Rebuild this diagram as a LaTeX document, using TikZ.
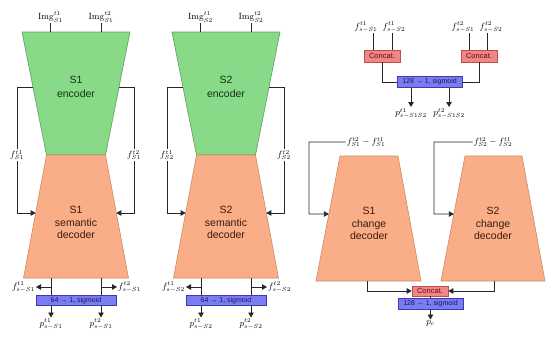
\documentclass[tikz,border=0pt]{standalone}
\usepackage{fontspec}
\setsansfont{Liberation Sans}
\usetikzlibrary{arrows.meta,calc}
\definecolor{encfill}{HTML}{88DA88}
\definecolor{encdraw}{HTML}{5E9E5E}
\definecolor{enctxt}{HTML}{143214}
\definecolor{decfill}{HTML}{F9AE88}
\definecolor{decdraw}{HTML}{C98B6B}
\definecolor{dectxt}{HTML}{3A1A0C}
\definecolor{bluefill}{HTML}{7C7CF2}
\definecolor{bluedraw}{HTML}{3C3CB0}
\definecolor{bluetxt}{HTML}{16165A}
\definecolor{catfill}{HTML}{F28585}
\definecolor{catdraw}{HTML}{B85050}
\definecolor{cattxt}{HTML}{5A1010}
\tikzset{
  conn/.style={draw=black!85, line width=0.8pt},
  arr/.style={conn, -{Triangle[length=5pt,width=5.5pt]}},
  encshape/.style={fill=encfill, draw=encdraw, line width=0.6pt},
  decshape/.style={fill=decfill, draw=decdraw, line width=0.6pt},
  lbl/.style={font=\fontsize{9}{10}\selectfont, inner sep=1pt},
  enctext/.style={font=\sffamily\fontsize{10.5}{13.5}\selectfont, align=center, text=enctxt},
  dectext/.style={font=\sffamily\fontsize{10.5}{12.8}\selectfont, align=center, text=dectxt},
  sigbox/.style={rectangle, fill=bluefill, draw=bluedraw, line width=0.6pt,
    font=\sffamily\fontsize{7}{8}\selectfont, text=bluetxt, inner sep=0pt,
    minimum height=10.5pt},
  catbox/.style={rectangle, fill=catfill, draw=catdraw, line width=0.6pt,
    font=\sffamily\fontsize{7.5}{8}\selectfont, text=cattxt, inner sep=0pt,
    minimum width=36pt},
}
\newcommand{\semcolumn}[2]{%
  \coordinate (e#2tl) at (#1-54,32);
  \coordinate (e#2tr) at (#1+54,32);
  \coordinate (e#2bl) at (#1-29.5,155);
  \coordinate (e#2br) at (#1+29.5,155);
  \coordinate (d#2bl) at (#1-52.5,278);
  \coordinate (d#2br) at (#1+52.5,278);
  \draw[encshape] (e#2tl) -- (e#2tr) -- (e#2br) -- (e#2bl) -- cycle;
  \draw[decshape] (e#2bl) -- (e#2br) -- (d#2br) -- (d#2bl) -- cycle;
  \node[enctext] (enc#2) at (#1,87) {S#2\\encoder};
  \node[dectext] (dec#2) at (#1,222.5) {S#2\\semantic\\decoder};
  % image inputs
  \node[lbl] (img#2a) at (#1-25.5,17) {$\mathrm{Img}^{t1}_{S#2}$};
  \node[lbl] (img#2b) at (#1+25,17) {$\mathrm{Img}^{t2}_{S#2}$};
  \draw[conn] (img#2a.south) -- (img#2a.south |- e#2tl);
  \draw[conn] (img#2b.south) -- (img#2b.south |- e#2tl);
  % skip connections
  \coordinate (el#2) at ($(e#2tl)!0.4472!(e#2bl)$);
  \coordinate (er#2) at ($(e#2tr)!0.4472!(e#2br)$);
  \coordinate (dl#2) at ($(e#2bl)!0.4715!(d#2bl)$);
  \coordinate (dr#2) at ($(e#2br)!0.4715!(d#2br)$);
  \node[lbl] (fl#2) at (#1-59,155) {$f^{t1}_{S#2}$};
  \node[lbl] (fr#2) at (#1+58,155) {$f^{t2}_{S#2}$};
  \draw[conn] (el#2) -| (fl#2.north);
  \draw[arr] (fl#2.south) |- (dl#2);
  \draw[conn] (er#2) -| (fr#2.north);
  \draw[arr] (fr#2.south) |- (dr#2);
  % output head
  \node[sigbox, minimum width=80pt] (sig#2) at (#1,300.5) {64 → 1, sigmoid};
  \coordinate (db#2a) at (#1-25,278);
  \coordinate (db#2b) at (#1+25,278);
  \draw[conn] (db#2a) -- (db#2a |- sig#2.north);
  \draw[conn] (db#2b) -- (db#2b |- sig#2.north);
  \node[lbl, anchor=east] (fs#2a) at (#1-40,287) {$f^{t1}_{s-S#2}$};
  \node[lbl, anchor=west] (fs#2b) at (#1+41,287) {$f^{t2}_{s-S#2}$};
  \draw[arr] (db#2a |- fs#2a.east) -- (fs#2a.east);
  \draw[arr] (db#2b |- fs#2b.west) -- (fs#2b.west);
  \node[lbl, anchor=north] (p#2a) at (#1-25,317.5) {$p^{t1}_{s-S#2}$};
  \node[lbl, anchor=north] (p#2b) at (#1+25,317.5) {$p^{t2}_{s-S#2}$};
  \draw[arr] (db#2a |- sig#2.south) -- (p#2a.north);
  \draw[arr] (db#2b |- sig#2.south) -- (p#2b.north);
}
\begin{document}
\begin{tikzpicture}[x=1pt,y=-1pt]
\useasboundingbox (0,0) rectangle (550,338);
\semcolumn{76}{1}
\semcolumn{226}{2}

% ---- cross-sensor semantic head (top right)
\node[catbox, minimum height=12pt] (cL) at (382,56) {Concat.};
\node[catbox, minimum height=12pt] (cR) at (479,56) {Concat.};
\node[lbl] (a1) at (366,27) {$f^{t1}_{s-S1}$};
\node[lbl] (a2) at (394,27) {$f^{t1}_{s-S2}$};
\node[lbl] (b1) at (463,27) {$f^{t2}_{s-S1}$};
\node[lbl] (b2) at (491,27) {$f^{t2}_{s-S2}$};
\draw[conn] ([xshift=7pt]a1.south) -- ([xshift=7pt]a1.south |- cL.north);
\draw[conn] ([xshift=-2pt]a2.south) -- ([xshift=-2pt]a2.south |- cL.north);
\draw[conn] ([xshift=6pt]b1.south) -- ([xshift=6pt]b1.south |- cR.north);
\draw[conn] ([xshift=-4pt]b2.south) -- ([xshift=-4pt]b2.south |- cR.north);
\node[sigbox, minimum width=65pt] (s3) at (429.5,82) {128 → 1, sigmoid};
\draw[conn] (cL.south) |- (s3.west);
\draw[conn] (cR.south) |- (s3.east);
\node[lbl, anchor=north] (q1) at (411,107) {$p^{t1}_{s-S1S2}$};
\node[lbl, anchor=north] (q2) at (449,107) {$p^{t2}_{s-S1S2}$};
\draw[arr] (q1.north |- s3.south) -- (q1.north);
\draw[arr] (q2.north |- s3.south) -- (q2.north);

% ---- change decoders
\coordinate (c1tl) at (340,156);
\coordinate (c1tr) at (398,156);
\coordinate (c1br) at (421,281);
\coordinate (c1bl) at (316,281);
\coordinate (c2tl) at (465,156);
\coordinate (c2tr) at (522,156);
\coordinate (c2br) at (545,281);
\coordinate (c2bl) at (441,281);
\draw[decshape] (c1tl) -- (c1tr) -- (c1br) -- (c1bl) -- cycle;
\draw[decshape] (c2tl) -- (c2tr) -- (c2br) -- (c2bl) -- cycle;
\node[dectext] (cd1) at (369,223.5) {S1\\change\\decoder};
\node[dectext] (cd2) at (493,223.5) {S2\\change\\decoder};

\node[lbl] (g1) at (366,142) {$f^{t2}_{S1}-f^{t1}_{S1}$};
\node[lbl] (g2) at (493,142) {$f^{t2}_{S2}-f^{t1}_{S2}$};
\coordinate (fb1) at (309,214);
\coordinate (fb2) at (434,214);
\coordinate (c1l) at ($(c1tl)!0.464!(c1bl)$);
\coordinate (c2l) at ($(c2tl)!0.464!(c2bl)$);
\draw[arr] (g1.west) -| (fb1) -- (c1l);
\draw[arr] (g2.west) -| (fb2) -- (c2l);

% ---- change head
\node[catbox, minimum height=10pt] (cB) at (430,291) {Concat.};
\node[sigbox, minimum width=65pt] (s4) at (430.5,304) {128 → 1, sigmoid};
\coordinate (c1o) at (367,281);
\coordinate (c2o) at (494,281);
\draw[arr] (c1o) |- (cB.west);
\draw[arr] (c2o) |- (cB.east);
\draw[conn] (cB.south) -- (cB.south |- s4.north);
\node[lbl, anchor=north] (pc) at (430.5,319.5) {$p_c$};
\draw[arr] (pc.north |- s4.south) -- (pc.north);
\end{tikzpicture}
\end{document}
